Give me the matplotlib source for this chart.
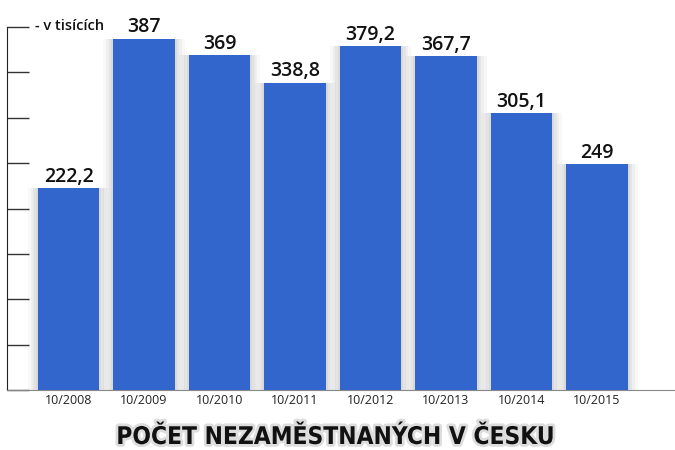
import matplotlib
matplotlib.use("Agg")
import matplotlib.pyplot as plt
import matplotlib.patheffects as pe
from matplotlib import font_manager as fm

categories = ["10/2008", "10/2009", "10/2010", "10/2011", "10/2012", "10/2013", "10/2014", "10/2015"]
values = [222.2, 387, 369, 338.8, 379.2, 367.7, 305.1, 249]
labels = ["222,2", "387", "369", "338,8", "379,2", "367,7", "305,1", "249"]
yticks = [0, 50, 100, 150, 200, 250, 300, 350, 400]

fig = plt.figure(figsize=(6.75, 4.5), dpi=100)
ax = fig.add_axes([7/675, 60/450, 668/675, 363/450])
x = list(range(len(categories)))
ax.set_xlim(-0.815, 8.033)
ax.set_ylim(0, 400)

# soft shadows
for w, a in [(1.08, 0.05), (1.0, 0.07), (0.93, 0.09), (0.87, 0.1)]:
    ax.bar(x, values, width=w, color="#808080", alpha=a, linewidth=0, zorder=1)
ax.bar(x, values, width=0.81, color="#3366CC", linewidth=0, zorder=3)

for xi, v, lab in zip(x, values, labels):
    ax.text(xi, v + 1.5, lab, ha="center", va="bottom", fontsize=14,
            family="Open Sans", weight="semibold", color="#111111", zorder=4)

ax.set_xticks(x)
ax.set_xticklabels(categories, fontsize=9, family="Open Sans", color="#222222")
ax.set_yticks(yticks)
ax.set_yticklabels([])
ax.tick_params(axis="y", direction="in", length=16, width=1, color="#333333")
ax.tick_params(axis="x", length=0, pad=3)
for s in ["top", "right"]:
    ax.spines[s].set_visible(False)
ax.spines["left"].set_color("#222222")
ax.spines["bottom"].set_color("#888888")

fig.text(35/675, 1 - 26/450, "- v tisících", fontsize=10.5, family="Open Sans",
         weight="semibold", color="#111111", va="center", ha="left")

# title font: prefer a condensed heavy face
fp = fm.FontProperties(family="DejaVu Sans", stretch="condensed", weight="bold")
path = fm.findfont(fp, fallback_to_default=True)
if "Condensed" in path:
    tprops = dict(family="DejaVu Sans", stretch="condensed", weight="bold")
else:
    tprops = dict(family="Lato", weight="black")

title = fig.text(336/675, 1 - 437/450, "POČET NEZAMĚSTNANÝCH V ČESKU", fontsize=22,
                 color="#111111", ha="center", va="center",
                 path_effects=[pe.withStroke(linewidth=4, foreground="#dddddd")],
                 **tprops)
fig.canvas.draw()
r = fig.canvas.get_renderer()
wpx = title.get_window_extent(r).width
title.set_fontsize(min(24, 22 * 437 / wpx))

fig.savefig("out.png", dpi=100)
